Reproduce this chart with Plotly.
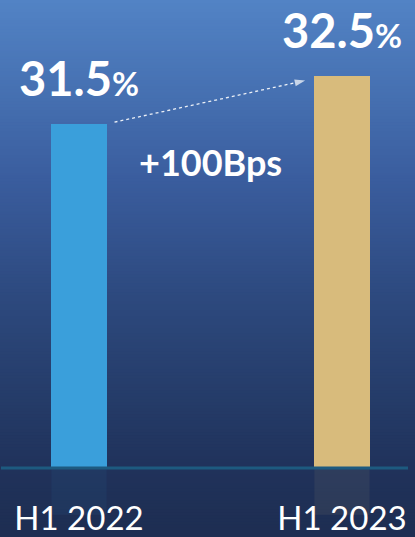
import plotly.graph_objects as go

# ---- data ----
categories = ["H1 2022", "H1 2023"]
values = [31.5, 32.5]
bar_colors = ["#3a9fdb", "#d8bb7c"]
change_bps = round((values[1] - values[0]) * 100)
change_label = f"+{change_bps}Bps"

FONT = "Lato"
x_idx = [0, 1]
bar_w = 0.21

fig = go.Figure()

fig.add_trace(go.Bar(
    x=x_idx, y=values, width=bar_w,
    marker=dict(color=bar_colors, line=dict(width=0)),
    hoverinfo="skip", showlegend=False,
))

# dashed arrow from first bar to second bar
ax0 = x_idx[0] + bar_w / 2 + 0.03
ax1 = x_idx[1] - bar_w / 2 - 0.035
ay0 = values[0] + 0.04
ay1 = values[1] - 0.09
fig.add_trace(go.Scatter(
    x=[ax0, ax1], y=[ay0, ay1], mode="lines+markers",
    line=dict(color="rgba(255,255,255,0.9)", width=1.3, dash="3px,3px"),
    marker=dict(symbol=["circle", "arrow"], size=[0, 11], angleref="previous",
                color="white", line=dict(width=0)),
    hoverinfo="skip", showlegend=False, cliponaxis=False,
))

# value labels
for xi, v in zip(x_idx, values):
    fig.add_annotation(
        x=xi, y=v, xref="x", yref="y", yanchor="bottom", yshift=16,
        text=f"<b>{v:.1f}</b><b><span style='font-size:33px'>%</span></b>",
        showarrow=False, font=dict(family=FONT, size=47, color="white"),
    )

# change label
fig.add_annotation(
    x=(x_idx[0] + x_idx[1]) / 2, y=(values[0] + values[1]) / 2 - 1.3,
    xref="x", yref="y", text=f"<b>{change_label}</b>", showarrow=False,
    font=dict(family=FONT, size=36, color="white"),
)

# background gradient bands (decorative)
stops = [(0, (82, 131, 197)), (100, (69, 111, 176)), (180, (58, 93, 158)),
         (300, (45, 73, 126)), (400, (37, 60, 105)), (470, (32, 50, 91)),
         (537, (30, 46, 82))]
H = 537
plot_bottom = 471
def col_at(p):
    for (p0, c0), (p1, c1) in zip(stops[:-1], stops[1:]):
        if p0 <= p <= p1:
            t = (p - p0) / (p1 - p0)
            return tuple(round(a + (b - a) * t) for a, b in zip(c0, c1))
    return stops[-1][1]
shapes = []
step = 3
for p in range(0, H, step):
    c = col_at(p + step / 2)
    shapes.append(dict(
        type="rect", xref="paper", yref="paper", layer="below",
        x0=-0.01, x1=1.05,
        y0=(plot_bottom - (p + step + 2)) / plot_bottom,
        y1=(plot_bottom - p) / plot_bottom,
        fillcolor=f"rgb{c}", line=dict(width=0),
    ))
# faint reflections under bars
for xi, c in zip(x_idx, ["rgba(58,159,219,0.07)", "rgba(216,187,124,0.08)"]):
    shapes.append(dict(type="rect", xref="x", yref="paper", layer="below",
                       x0=xi - bar_w / 2, x1=xi + bar_w / 2,
                       y0=-0.10, y1=0, fillcolor=c, line=dict(width=0)))
# axis baseline
shapes.append(dict(type="line", xref="paper", yref="paper", x0=0, x1=1,
                   y0=0, y1=0, line=dict(color="#1d5a80", width=3)))

fig.update_layout(
    width=415, height=537,
    margin=dict(l=1, r=7, t=0, b=66),
    paper_bgcolor="#1e2e52", plot_bgcolor="rgba(0,0,0,0)",
    shapes=shapes, bargap=0,
    xaxis=dict(
        range=[-0.2966, 1.251], tickvals=x_idx, ticktext=categories,
        showgrid=False, zeroline=False, showline=False, ticks="",
        tickfont=dict(family=FONT, size=33, color="white"),
        ticklabelstandoff=28, fixedrange=True,
    ),
    yaxis=dict(range=[24.29, 34.10], visible=False, showgrid=False,
               zeroline=False, fixedrange=True),
    font=dict(family=FONT),
)

fig.write_html("out.html")
